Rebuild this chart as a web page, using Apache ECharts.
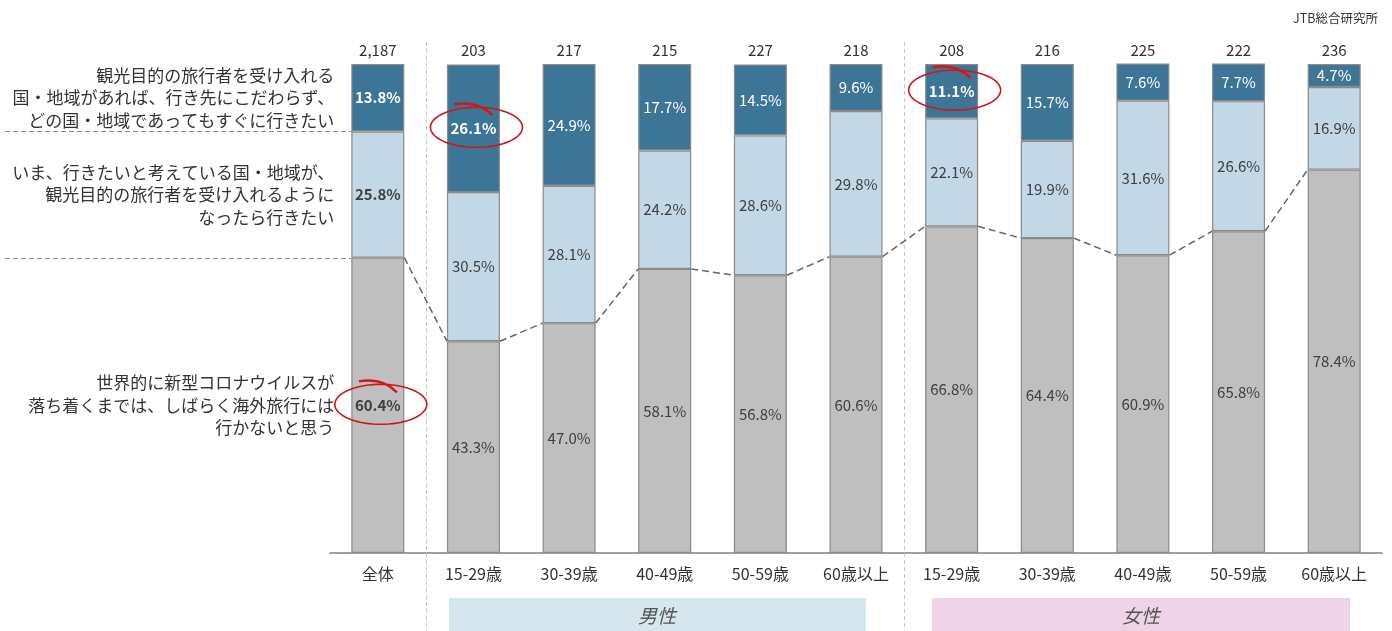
<!DOCTYPE html>
<html lang="ja">
<head>
    <meta charset="UTF-8">
    <title>海外旅行意向</title>
    <script src="https://cdn.jsdelivr.net/npm/echarts@6.0.0/dist/echarts.min.js"></script>
    <style>
        * { margin: 0; padding: 0; box-sizing: border-box; }
        body { background: #fff; }
        #chart { width: 1392px; height: 631px; }
    </style>
</head>
<body>
    <div id="chart"></div>
    <script>
        // データ
        const categories = ['全体', '15-29歳', '30-39歳', '40-49歳', '50-59歳', '60歳以上',
                            '15-29歳', '30-39歳', '40-49歳', '50-59歳', '60歳以上'];
        const counts = [2187, 203, 217, 215, 227, 218, 208, 216, 225, 222, 236];
        const waitValues = [60.4, 43.3, 47.0, 58.1, 56.8, 60.6, 66.8, 64.4, 60.9, 65.8, 78.4];
        const laterValues = [25.8, 30.5, 28.1, 24.2, 28.6, 29.8, 22.1, 19.9, 31.6, 26.6, 16.9];
        const soonValues = [13.8, 26.1, 24.9, 17.7, 14.5, 9.6, 11.1, 15.7, 7.6, 7.7, 4.7];
        const answerTexts = [
            '世界的に新型コロナウイルスが\n落ち着くまでは、しばらく海外旅行には\n行かないと思う',
            'いま、行きたいと考えている国・地域が、\n観光目的の旅行者を受け入れるように\nなったら行きたい',
            '観光目的の旅行者を受け入れる\n国・地域があれば、行き先にこだわらず、\nどの国・地域であってもすぐに行きたい'
        ];
        // 赤丸で囲む値 [カテゴリ番号, 系列番号(0:wait 1:later 2:soon)]
        const highlights = [[0, 0], [1, 2], [6, 2]];

        const FONT = '"Noto Sans CJK JP", "Noto Sans", sans-serif';
        const BAR_W = 53;
        const stacks = [waitValues, laterValues, soonValues];

        function isBold(cat, s) {
            return cat === 0 || highlights.some(h => h[0] === cat && h[1] === s);
        }
        function barData(s) {
            return stacks[s].map((v, i) => ({
                value: v,
                label: { fontWeight: isBold(i, s) ? 'bold' : 'normal' }
            }));
        }
        function segMid(cat, s) {
            let base = 0;
            for (let k = 0; k < s; k++) base += stacks[k][cat];
            return base + stacks[s][cat] / 2;
        }

        const chart = echarts.init(document.getElementById('chart'));

        const barCommon = {
            type: 'bar',
            stack: 'total',
            barWidth: BAR_W,
            itemStyle: { borderColor: '#8a8a8a', borderWidth: 1.2 },
            label: {
                show: true,
                position: 'inside',
                fontFamily: FONT,
                fontSize: 15,
                formatter: p => p.value.toFixed(1) + '%'
            },
            silent: true
        };

        const option = {
            animation: false,
            grid: { left: 330, right: 10, top: 64, bottom: 78 },
            xAxis: [{
                type: 'category',
                data: categories,
                axisLine: { lineStyle: { color: '#808080', width: 1.5 } },
                axisTick: { show: false },
                axisLabel: { color: '#333', fontFamily: FONT, fontSize: 16, margin: 13 }
            }, {
                type: 'category',
                position: 'top',
                data: counts.map(c => c.toLocaleString('en-US')),
                axisLine: { show: false },
                axisTick: { show: false },
                axisLabel: { color: '#333', fontFamily: FONT, fontSize: 15, margin: 6 }
            }],
            yAxis: {
                type: 'value', min: 0, max: 100, show: false
            },
            graphic: [
                { type: 'text', right: 14, top: 12,
                  style: { text: 'JTB総合研究所', fontSize: 12.5, fill: '#333', fontFamily: FONT } },
                { type: 'rect', shape: { x: 449, y: 598, width: 417, height: 40 },
                  style: { fill: '#d6e6ef' }, z: 0 },
                { type: 'rect', shape: { x: 932, y: 598, width: 418, height: 40 },
                  style: { fill: '#efd3e6' }, z: 0 },
                { type: 'text', x: 657, y: 616,
                  style: { text: '男性', fontSize: 19, fontStyle: 'italic', fill: '#555', fontFamily: FONT,
                           align: 'center', verticalAlign: 'middle' } },
                { type: 'text', x: 1141, y: 616,
                  style: { text: '女性', fontSize: 19, fontStyle: 'italic', fill: '#555', fontFamily: FONT,
                           align: 'center', verticalAlign: 'middle' } }
            ],
            series: [
                Object.assign({}, barCommon, {
                    name: 'wait', data: barData(0),
                    itemStyle: Object.assign({}, barCommon.itemStyle, { color: '#bfbfbf' }),
                    label: Object.assign({}, barCommon.label, { color: '#404040' })
                }),
                Object.assign({}, barCommon, {
                    name: 'later', data: barData(1),
                    itemStyle: Object.assign({}, barCommon.itemStyle, { color: '#c2d8e6' }),
                    label: Object.assign({}, barCommon.label, { color: '#404040' })
                }),
                Object.assign({}, barCommon, {
                    name: 'soon', data: barData(2),
                    itemStyle: Object.assign({}, barCommon.itemStyle, { color: '#3c7596' }),
                    label: Object.assign({}, barCommon.label, { color: '#ffffff' })
                }),
                // 区切り線（全体｜男性｜女性）
                {
                    type: 'custom', silent: true, clip: false, z: 1,
                    data: [[1, 0], [6, 0]],
                    renderItem: function (params, api) {
                        const i = api.value(0);
                        const a = api.coord([i - 1, 0]);
                        const b = api.coord([i, 0]);
                        const x = Math.round((a[0] + b[0]) / 2) + 0.5;
                        return {
                            type: 'line',
                            shape: { x1: x, y1: 42, x2: x, y2: 631 },
                            style: { stroke: '#c8c8c8', lineWidth: 1, lineDash: [4, 3] }
                        };
                    }
                },
                // 区分線（灰色の上端を結ぶ）
                {
                    type: 'custom', silent: true, clip: false, z: 5,
                    data: waitValues.map((v, i) => [i, v]),
                    renderItem: function (params, api) {
                        const i = params.dataIndex;
                        if (i >= waitValues.length - 1) return null;
                        const p1 = api.coord([i, waitValues[i]]);
                        const p2 = api.coord([i + 1, waitValues[i + 1]]);
                        return {
                            type: 'line',
                            shape: { x1: p1[0] + BAR_W / 2, y1: p1[1], x2: p2[0] - BAR_W / 2, y2: p2[1] },
                            style: { stroke: '#666', lineWidth: 1.5, lineDash: [7, 4] }
                        };
                    }
                },
                // 左側の回答文と横点線
                {
                    type: 'custom', silent: true, clip: false, z: 5,
                    data: [[0, 0], [0, 1], [0, 2]],
                    renderItem: function (params, api) {
                        const s = params.dataIndex;
                        const mid = api.coord([0, segMid(0, s)]);
                        const left = mid[0] - BAR_W / 2;
                        const children = [{
                            type: 'text',
                            x: left - 17, y: mid[1],
                            style: {
                                text: answerTexts[s], fill: '#333', fontFamily: FONT, fontSize: 17,
                                lineHeight: 22.5, align: 'right', verticalAlign: 'middle'
                            }
                        }];
                        if (s < 2) {
                            let top = 0;
                            for (let k = 0; k <= s; k++) top += stacks[k][0];
                            const y = Math.round(api.coord([0, top])[1]) + 0.5;
                            children.push({
                                type: 'line',
                                shape: { x1: 5, y1: y, x2: left, y2: y },
                                style: { stroke: '#888', lineWidth: 1, lineDash: [5, 3] }
                            });
                        }
                        return { type: 'group', children: children };
                    }
                },
                // 赤丸
                {
                    type: 'custom', silent: true, clip: false, z: 10,
                    data: highlights,
                    renderItem: function (params, api) {
                        const h = highlights[params.dataIndex];
                        const c = api.coord([h[0], segMid(h[0], h[1])]);
                        const cx = c[0] + 3, cy = c[1] - 1;
                        const rx = 46, ry = 20;
                        const pts = [];
                        for (let k = 0; k < 72; k++) {
                            const t = k / 72 * Math.PI * 2;
                            pts.push([cx + rx * Math.cos(t), cy + ry * Math.sin(t)]);
                        }
                        return {
                            type: 'group',
                            children: [{
                                type: 'polygon',
                                shape: { points: pts },
                                style: { fill: 'none', stroke: '#d0161b', lineWidth: 1.6 }
                            }, {
                                type: 'bezierCurve',
                                shape: { x1: cx - 22, y1: cy - 23, cpx1: cx + 2, cpy1: cy - 27,
                                         x2: cx + 16, y2: cy - 12 },
                                style: { fill: 'none', stroke: '#d0161b', lineWidth: 2.4 }
                            }]
                        };
                    }
                }
            ]
        };

        chart.setOption(option);
    </script>
</body>
</html>
